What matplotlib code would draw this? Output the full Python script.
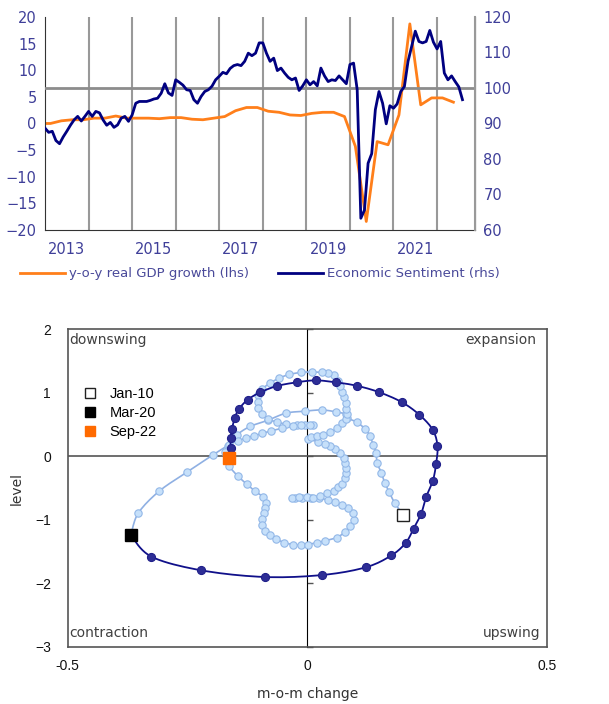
import numpy as np
import matplotlib
matplotlib.use('Agg')
import matplotlib.pyplot as plt
from matplotlib.lines import Line2D

plt.rcParams['font.family'] = ['DejaVu Sans']

# ---- top chart data ----
sentiment_start = 2013  # monthly from Jan
sentiment = [88.7, 87.5, 87.8, 85.2, 84.3, 86.2, 87.8, 89.5, 91.0, 92.0, 90.7, 92.0,
             93.4, 92.0, 93.4, 93.0, 91.0, 89.5, 90.3, 88.9, 89.6, 91.5, 92.0, 90.6,
             92.4, 95.7, 96.2, 96.2, 96.2, 96.5, 96.9, 97.1, 98.5, 101.2, 98.6, 97.9,
             102.3, 101.6, 100.8, 99.5, 99.3, 96.7, 95.7, 97.6, 99.0, 99.5, 100.5, 102.3,
             103.3, 104.4, 104.0, 105.5, 106.3, 106.6, 106.3, 107.5, 109.8, 109.1, 109.8, 112.7,
             112.7, 109.8, 107.5, 108.4, 104.9, 105.6, 104.2, 103.0, 102.3, 102.8, 99.3, 100.6,
             102.3, 100.9, 101.8, 100.6, 105.6, 103.4, 101.8, 102.3, 102.1, 103.4, 102.3, 101.2,
             106.6, 107.0, 99.5, 63.3, 65.6, 78.8, 81.5, 93.9, 99.0, 95.7, 89.9, 95.0,
             94.3, 95.5, 99.0, 100.4, 107.5, 111.7, 116.0, 113.1, 112.7, 113.1, 116.2, 112.9,
             111.0, 113.1, 104.2, 102.3, 103.4, 101.8, 100.3, 96.7]

gdp_start = 2012.75  # quarterly from Q4 2012
gdp = [0.0,
       0.0, 0.5, 0.7, 0.7,
       1.0, 1.0, 1.4, 1.0,
       1.0, 1.0, 0.9, 1.1,
       1.1, 0.8, 0.7, 1.0,
       1.3, 2.4, 3.0, 3.0,
       2.3, 2.1, 1.6, 1.5,
       1.9, 2.1, 2.1, 1.3,
       -4.3, -18.4, -3.4, -4.0,
       1.6, 18.7, 3.5, 4.8,
       4.8, 4.0]

year_labels = ['2013', '2015', '2017', '2019', '2021']
sentiment_avg = 100

# ---- bottom chart data (cycle clock) ----
old_mom = [0.200, 0.183, 0.171, 0.162, 0.155, 0.146, 0.144, 0.138, 0.131, 0.121, 0.103, 0.084,
           0.082, 0.060, 0.030, -0.005, -0.044, -0.081, -0.119, -0.146, -0.166, -0.172, -0.165, -0.163,
           -0.145, -0.126, -0.109, -0.092, -0.087, -0.088, -0.091, -0.094, -0.095, -0.088, -0.078, -0.065,
           -0.048, -0.030, -0.013, 0.002, 0.020, 0.038, 0.062, 0.079, 0.089, 0.098, 0.096, 0.086,
           0.072, 0.058, 0.044, 0.025, 0.008, -0.010, -0.025, -0.032, -0.018, 0.000, 0.013, 0.027,
           0.041, 0.055, 0.065, 0.072, 0.079, 0.081, 0.081, 0.079, 0.076, 0.069, 0.058, 0.048,
           0.037, 0.023, 0.002, 0.008, 0.020, 0.034, 0.048, 0.062, 0.072, 0.081, 0.084, 0.082,
           0.080, 0.077, 0.073, 0.068, 0.064, 0.055, 0.044, 0.030, 0.011, -0.013, -0.037, -0.059,
           -0.078, -0.094, -0.102, -0.103, -0.102, -0.094, -0.082, -0.064, -0.045, -0.022, -0.005, 0.013,
           0.005, -0.012, -0.030, -0.053, -0.075, -0.094, -0.112, -0.128, -0.145, -0.163, -0.197, -0.251,
           -0.309, -0.353, -0.368]
old_level = [-0.92, -0.74, -0.56, -0.42, -0.26, -0.11, 0.05, 0.18, 0.32, 0.43, 0.54, 0.60,
             0.66, 0.70, 0.73, 0.71, 0.68, 0.57, 0.47, 0.34, 0.16, 0.06, -0.03, -0.15,
             -0.31, -0.44, -0.55, -0.64, -0.73, -0.81, -0.90, -0.99, -1.08, -1.17, -1.24, -1.30,
             -1.36, -1.39, -1.40, -1.39, -1.36, -1.33, -1.28, -1.19, -1.10, -1.00, -0.90, -0.82,
             -0.76, -0.72, -0.69, -0.66, -0.66, -0.665, -0.66, -0.65, -0.64, -0.645, -0.65, -0.63,
             -0.58, -0.55, -0.49, -0.43, -0.35, -0.27, -0.19, -0.11, -0.03, 0.05, 0.11, 0.16,
             0.19, 0.23, 0.27, 0.30, 0.315, 0.34, 0.38, 0.44, 0.52, 0.58, 0.67, 0.75,
             0.84, 0.93, 1.02, 1.11, 1.19, 1.28, 1.31, 1.32, 1.33, 1.32, 1.29, 1.23,
             1.15, 1.06, 0.97, 0.86, 0.76, 0.67, 0.59, 0.54, 0.51, 0.49, 0.49, 0.49,
             0.50, 0.495, 0.47, 0.44, 0.40, 0.36, 0.32, 0.29, 0.24, 0.18, 0.02, -0.25,
             -0.55, -0.90, -1.245]

new_mom = [-0.368, -0.325, -0.221, -0.089, 0.031, 0.122, 0.176, 0.206, 0.222, 0.238, 0.248,
           0.262, 0.269, 0.272, 0.262, 0.234, 0.197, 0.149, 0.103, 0.060, 0.018, -0.022,
           -0.063, -0.098, -0.124, -0.143, -0.151, -0.157, -0.160, -0.160, -0.164]
new_level = [-1.246, -1.582, -1.797, -1.902, -1.871, -1.750, -1.561, -1.361, -1.141, -0.904, -0.647,
             -0.395, -0.127, 0.162, 0.419, 0.655, 0.855, 1.013, 1.112, 1.165, 1.196, 1.165,
             1.107, 1.007, 0.892, 0.740, 0.603, 0.435, 0.283, 0.136, -0.021]


def smooth(x, y, n=10):
    # catmull-rom curve through the points, like excel's smoothed line
    p = np.column_stack([x, y])
    p = np.vstack([p[0], p, p[-1]])
    t = np.linspace(0, 1, n, endpoint=False)[:, None]
    out = []
    for i in range(1, len(p) - 2):
        p0, p1, p2, p3 = p[i - 1], p[i], p[i + 1], p[i + 2]
        seg = 0.5 * (2 * p1 + (-p0 + p2) * t + (2 * p0 - 5 * p1 + 4 * p2 - p3) * t ** 2
                     + (-p0 + 3 * p1 - 3 * p2 + p3) * t ** 3)
        out.append(seg)
    out.append(p[-2][None, :])
    out = np.vstack(out)
    return out[:, 0], out[:, 1]


fig = plt.figure(figsize=(6.09, 7.04), dpi=100)
tick_col = '#3f3f99'
orange = '#ff7f1a'
navy = '#000080'

# ---------------- top chart ----------------
ax = fig.add_axes([0.0739, 0.6733, 0.706, 0.3026])
ax2 = ax.twinx()

sx = sentiment_start + np.arange(len(sentiment)) / 12
gx = gdp_start + (np.arange(len(gdp)) * 3 + 1.5) / 12

for yr in range(2014, 2023):
    ax.axvline(yr, color='#999999', lw=1.5, zorder=0)

l1, = ax.plot(gx, gdp, color=orange, lw=2.0, zorder=2)
ax2.axhline(sentiment_avg, color='#8c8c8c', lw=2.0, zorder=1)
l2, = ax2.plot(sx, sentiment, color=navy, lw=2.0, zorder=3)

ax.set_xlim(2013.0, 2022.87)
ax.set_ylim(-20, 20)
ax2.set_ylim(60, 120)
ax.set_yticks(range(-20, 21, 5))
ax2.set_yticks(range(60, 121, 10))
ax.set_xticks([int(y) + 0.5 for y in year_labels])
ax.set_xticklabels(year_labels)

for a in (ax, ax2):
    a.tick_params(length=0, labelsize=10.5, colors=tick_col)
    a.spines['top'].set_visible(False)
ax.tick_params(axis='x', pad=9)
ax.tick_params(axis='y', pad=6)
ax2.tick_params(axis='y', pad=6)
ax.spines['left'].set_color('#333333')
ax.spines['bottom'].set_color('#333333')
ax2.spines['right'].set_color('#999999')
ax2.spines['right'].set_linewidth(1.5)
ax2.spines['left'].set_visible(False)
ax2.spines['bottom'].set_visible(False)

fig.legend([l1, l2], ['y-o-y real GDP growth (lhs)', 'Economic Sentiment (rhs)'],
           loc='center', bbox_to_anchor=(0.427, 0.611), ncol=2, frameon=False,
           fontsize=9.5, handlelength=3.4, columnspacing=2.2, handletextpad=0.3,
           labelcolor='#4a4a9a')

# ---------------- bottom chart ----------------
bx = fig.add_axes([0.1111, 0.0814, 0.7866, 0.4508])
bx.set_xlim(-0.5, 0.5)
bx.set_ylim(-3, 2)

bx.axhline(0, color='#555555', lw=1.2, zorder=1)
mid = bx.secondary_yaxis(0.5)
mid.set_yticks(range(-3, 3))
mid.set_yticklabels([])
mid.tick_params(length=4, color='#555555', direction='out', width=1)
mid.spines['left'].set_color('#555555')
mid.spines['left'].set_linewidth(1.2)

ox, oy = smooth(old_mom, old_level)
bx.plot(ox, oy, color='#8fb0e3', lw=1.2, zorder=2)
bx.plot(old_mom, old_level, ls='none', marker='o', ms=5.3, mfc='#c6e0fa',
        mec='#93b8e8', mew=0.8, zorder=3)

nx, ny = smooth(new_mom, new_level)
bx.plot(nx, ny, color='#10108a', lw=1.3, zorder=4)
bx.plot(new_mom[1:-1], new_level[1:-1], ls='none', marker='o', ms=5.8, mfc='#2e2e96',
        mec='#20208a', mew=0.8, zorder=5)

bx.plot(old_mom[0], old_level[0], marker='s', ms=8, mfc='white', mec='#222222', mew=1, zorder=6)
bx.plot(new_mom[0], new_level[0], marker='s', ms=8, mfc='black', mec='black', zorder=6)
bx.plot(new_mom[-1], new_level[-1], marker='s', ms=8, mfc='#ff6a00', mec='#ff6a00', zorder=6)

bx.set_xticks([-0.5, 0, 0.5])
bx.set_xticklabels(['-0.5', '0', '0.5'])
bx.set_yticks(range(-3, 3))
bx.tick_params(length=0, labelsize=10, colors='#111111')
bx.tick_params(axis='y', pad=12)
bx.tick_params(axis='x', pad=9)
for tl in bx.get_xticklabels() + bx.get_yticklabels():
    tl.set_family('Liberation Sans')
for s in bx.spines.values():
    s.set_color('#555555')
    s.set_linewidth(1.2)

bx.set_xlabel('m-o-m change', fontsize=10, color='#333333', labelpad=10)
bx.set_ylabel('level', fontsize=10, color='#333333', labelpad=8)

qcol = '#404040'
bx.text(0.003, 0.99, 'downswing', transform=bx.transAxes, ha='left', va='top', fontsize=10, color=qcol)
bx.text(0.978, 0.99, 'expansion', transform=bx.transAxes, ha='right', va='top', fontsize=10, color=qcol)
bx.text(0.003, 0.02, 'contraction', transform=bx.transAxes, ha='left', va='bottom', fontsize=10, color=qcol)
bx.text(0.988, 0.02, 'upswing', transform=bx.transAxes, ha='right', va='bottom', fontsize=10, color=qcol)

handles = [Line2D([], [], ls='none', marker='s', ms=7, mfc='white', mec='#222222'),
           Line2D([], [], ls='none', marker='s', ms=7, mfc='black', mec='black'),
           Line2D([], [], ls='none', marker='s', ms=7, mfc='#ff6a00', mec='#ff6a00')]
leg = bx.legend(handles, ['Jan-10', 'Mar-20', 'Sep-22'], loc='upper left',
                bbox_to_anchor=(0.005, 0.86), frameon=False, handlelength=1.0,
                handletextpad=0.8, labelspacing=0.35, prop={'family': 'Liberation Sans', 'size': 10.5})

fig.savefig('out.png', dpi=100)
